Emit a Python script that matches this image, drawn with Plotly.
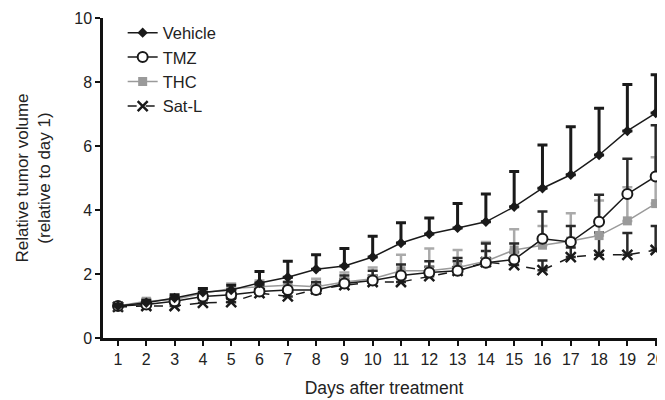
import plotly.graph_objects as go

days = list(range(1, 21))

vehicle = [1.0, 1.1, 1.25, 1.43, 1.5, 1.72, 1.9, 2.15, 2.25, 2.53,
           2.97, 3.25, 3.44, 3.63, 4.1, 4.68, 5.1, 5.72, 6.47, 7.03]
vehicle_err = [0.05, 0.08, 0.1, 0.12, 0.15, 0.36, 0.5, 0.45, 0.55, 0.65,
               0.63, 0.5, 0.76, 0.87, 1.1, 1.35, 1.5, 1.46, 1.45, 1.2]

tmz = [1.0, 1.05, 1.15, 1.3, 1.35, 1.45, 1.5, 1.5, 1.7, 1.8,
       1.95, 2.05, 2.1, 2.35, 2.45, 3.1, 3.0, 3.63, 4.5, 5.05]
tmz_err = [0.05, 0.08, 0.1, 0.12, 0.15, 0.2, 0.25, 0.25, 0.25, 0.3,
           0.35, 0.35, 0.4, 0.6, 0.5, 0.85, 0.5, 0.85, 1.1, 1.6]

thc = [1.0, 1.15, 1.2, 1.4, 1.55, 1.6, 1.65, 1.6, 1.75, 1.85,
       2.1, 2.1, 2.2, 2.4, 2.75, 2.9, 3.03, 3.2, 3.66, 4.2]
thc_err = [0.05, 0.08, 0.1, 0.12, 0.15, 0.2, 0.25, 0.25, 0.3, 0.35,
           0.5, 0.7, 0.55, 0.6, 0.65, 0.6, 0.87, 1.1, 1.05, 1.45]

satl = [0.97, 1.0, 1.0, 1.1, 1.12, 1.4, 1.3, 1.52, 1.65, 1.75,
        1.75, 1.93, 2.1, 2.37, 2.28, 2.12, 2.53, 2.6, 2.6, 2.75]
satl_err = [0.05, 0.05, 0.08, 0.1, 0.1, 0.15, 0.15, 0.2, 0.2, 0.2,
            0.25, 0.3, 0.3, 0.35, 0.4, 0.3, 0.3, 0.7, 0.68, 0.75]

dark = '#1a1a1a'
grey = '#9a9a9a'

series = [
    ('Vehicle', vehicle, vehicle_err, dict(symbol='diamond', size=8, color=dark),
     dict(color=dark, width=1.5), dict(color=dark, thickness=3, width=5)),
    ('TMZ', tmz, tmz_err, dict(symbol='circle', size=10, color='white', line=dict(color=dark, width=2)),
     dict(color=dark, width=1.5), dict(color='#2a2a2a', thickness=2.5, width=5)),
    ('THC', thc, thc_err, dict(symbol='square', size=9, color=grey),
     dict(color=grey, width=1.5), dict(color='#aaaaaa', thickness=2.5, width=5)),
    ('Sat-L', satl, satl_err, dict(symbol='x-thin', size=10, line=dict(color=dark, width=2.5), color=dark),
     dict(color=dark, width=1.5, dash='dash'), dict(color='#2a2a2a', thickness=2.5, width=5)),
]

fig = go.Figure()
# draw in reverse so Vehicle sits on top, legend order kept via traceorder
for name, vals, err, marker, line, eb in reversed(series):
    fig.add_trace(go.Scatter(
        x=days, y=vals, name=name, mode='lines+markers',
        marker=marker, line=line,
        error_y=dict(type='data', array=err, arrayminus=[0] * len(err), symmetric=False, **eb),
    ))

# page body has an 8px margin, so the figure is a bit smaller than the window
fig.update_layout(
    width=657, height=392,
    margin=dict(l=95, r=0, t=10, b=62),
    paper_bgcolor='white', plot_bgcolor='white',
    font=dict(family='Arial, Liberation Sans, sans-serif', size=16, color='#222'),
    showlegend=True,
    legend=dict(x=0.035, y=1.008, xanchor='left', yanchor='top', traceorder='reversed',
                bgcolor='rgba(0,0,0,0)', font=dict(size=16.5), itemwidth=30, tracegroupgap=0),
    xaxis=dict(
        title=dict(text='Days after treatment', font=dict(size=17.5)),
        automargin=False,
        range=[0.47, 20.33], tickmode='array', tickvals=days,
        showline=True, linecolor='#111', linewidth=2.5, ticks='outside', ticklen=5,
        tickwidth=2, tickcolor='#111', showgrid=False, zeroline=False,
    ),
    yaxis=dict(
        title=dict(text='Relative tumor volume<br>(relative to day 1)', font=dict(size=17), standoff=20),
        automargin=False,
        range=[0, 10], tickvals=[0, 2, 4, 6, 8, 10],
        showline=True, linecolor='#111', linewidth=2.5, ticks='outside', ticklen=5,
        tickwidth=2, tickcolor='#111', showgrid=False, zeroline=False,
    ),
)

fig.write_html("out.html")
